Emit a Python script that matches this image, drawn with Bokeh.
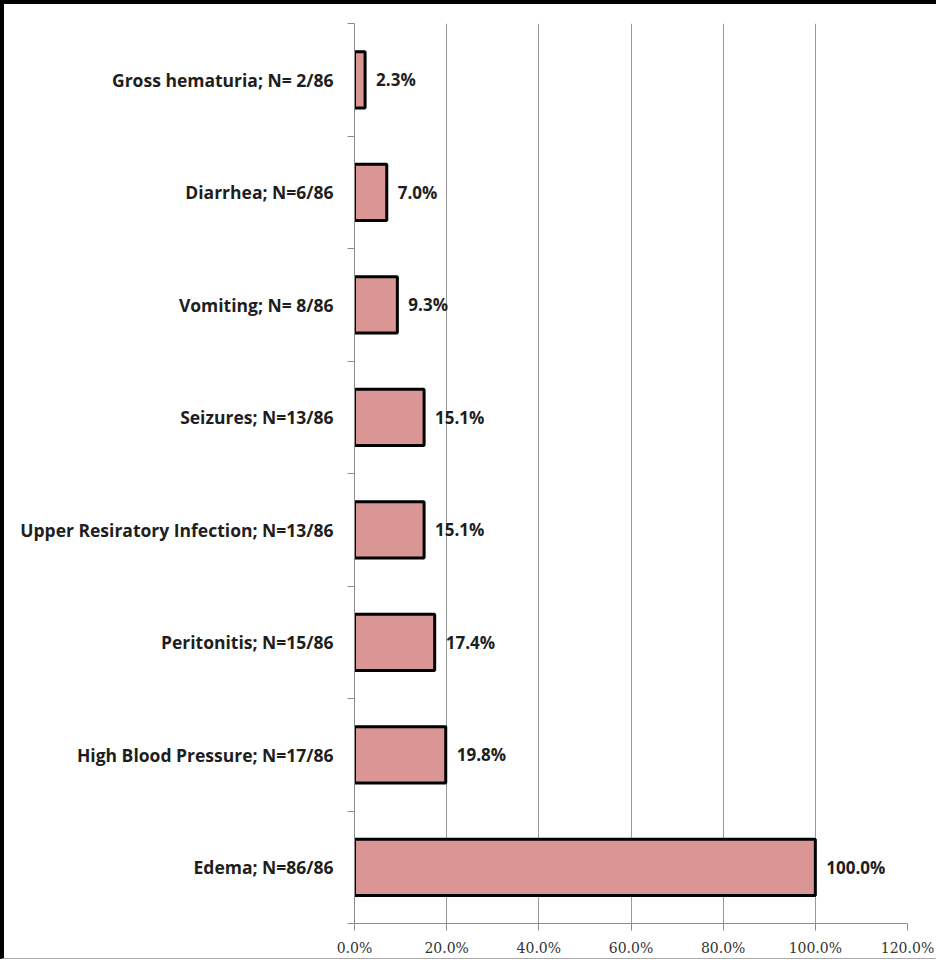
from bokeh.plotting import figure
from bokeh.models import Range1d, FixedTicker
from bokeh.core.properties import value
from bokeh.embed import file_html
from bokeh.resources import INLINE

# ---- data (bottom to top) ----
categories = [
    "Edema; N=86/86",
    "High Blood Pressure; N=17/86",
    "Peritonitis; N=15/86",
    "Upper Resiratory Infection; N=13/86",
    "Seizures; N=13/86",
    "Vomiting; N= 8/86",
    "Diarrhea; N=6/86",
    "Gross hematuria; N= 2/86",
]
percent = [100.0, 19.8, 17.4, 15.1, 15.1, 9.3, 7.0, 2.3]
value_labels = ["100.0%", "19.8%", "17.4%", "15.1%", "15.1%", "9.3%", "7.0%", "2.3%"]
x_ticks = [0, 20, 40, 60, 80, 100, 120]
x_tick_labels = ["0.0%", "20.0%", "40.0%", "60.0%", "80.0%", "100.0%", "120.0%"]

ypos = list(range(len(categories)))
bounds = [i - 0.5 for i in range(len(categories) + 1)]

p = figure(
    output_backend="svg", toolbar_location=None,
    frame_width=553, frame_height=900,
    min_border_left=350, min_border_right=29,
    min_border_top=19, min_border_bottom=34,
    x_range=Range1d(0, 120), y_range=Range1d(-0.5, len(categories) - 0.5),
    background_fill_color="white", border_fill_color="white",
)
p.outline_line_color = None
p.styles = {"border-top": "4px solid black", "border-left": "4px solid black",
            "border-bottom": "1px solid #aaaaaa"}

# grid
p.ygrid.grid_line_color = None
p.xgrid.grid_line_color = "#9a9a9a"
p.xgrid.grid_line_width = 1

# x axis
p.xaxis.ticker = FixedTicker(ticks=x_ticks)
p.xaxis.major_label_overrides = {t: l for t, l in zip(x_ticks, x_tick_labels)}
p.xaxis.axis_line_color = "#8c8c8c"
p.xaxis.major_tick_line_color = "#8c8c8c"
p.xaxis.major_tick_out = 7
p.xaxis.major_tick_in = 0
p.xaxis.minor_tick_line_color = None
p.xaxis.major_label_text_font = "DejaVu Serif"
p.xaxis.major_label_text_font_size = "14px"
p.xaxis.major_label_text_color = "#333333"
p.xaxis.major_label_standoff = 9

# y axis: labels at centres, ticks at boundaries
p.yaxis.ticker = FixedTicker(ticks=ypos, minor_ticks=bounds)
p.yaxis.major_label_overrides = {i: c for i, c in zip(ypos, categories)}
p.yaxis.axis_line_color = "#8c8c8c"
p.yaxis.major_tick_line_color = None
p.yaxis.major_tick_out = 0
p.yaxis.major_tick_in = 0
p.yaxis.minor_tick_line_color = "#8c8c8c"
p.yaxis.minor_tick_out = 7
p.yaxis.minor_tick_in = 0
p.yaxis.major_label_text_font = "Open Sans"
p.yaxis.major_label_text_font_style = "bold"
p.yaxis.major_label_text_font_size = "17.5px"
p.yaxis.major_label_text_color = "#1e1e1e"
p.yaxis.major_label_standoff = 14

# bars
p.hbar(y=ypos, left=0, right=percent, height=0.5,
       fill_color="#D99694", line_color="black", line_width=3)

# data labels
p.text(x=percent, y=ypos, text=value_labels, x_offset=11,
       text_align="left", text_baseline="middle",
       text_font=value("Open Sans"), text_font_style="bold",
       text_font_size="17px", text_color="#1e1e1e")

open("out.html", "w").write(file_html(p, INLINE))
